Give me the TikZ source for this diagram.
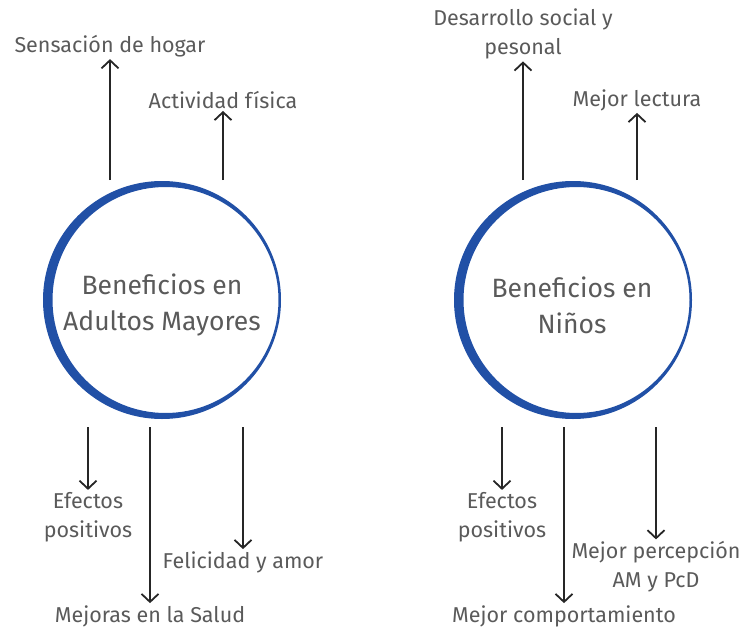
\documentclass[tikz,border=0pt]{standalone}
\usepackage{fontspec}
\setmainfont{Fira Sans}
\usetikzlibrary{arrows.meta}
\definecolor{ringblue}{HTML}{2150A6}
\definecolor{inkgray}{HTML}{5A5A5A}
\definecolor{arrowink}{HTML}{262626}
\tikzset{
  benefit/.style={text=inkgray, font=\fontsize{21.5}{29}\selectfont, align=center, inner sep=2pt},
  title/.style={text=inkgray, font=\fontsize{26.5}{36}\selectfont, align=center},
  ring/.style={fill=ringblue, even odd rule},
}
\begin{document}
\begin{tikzpicture}[x=1pt,y=-1pt]
      \useasboundingbox (0,0) rectangle (742,629);
      \fill[ring] (162,300) circle [radius=119pt] (165.5,300) circle [radius=113pt];
      \fill[ring] (573,300) circle [radius=119pt] (576.5,300) circle [radius=113pt];
      \draw
        (162,305) node[title] (adultos){Beneficios en\\Adultos Mayores}
        (110,46) node[benefit] (hogar){Sensación de hogar}
        (223,100) node[benefit] (actividad){Actividad física}
        (88,517) node[benefit] (efectosA){Efectos\\positivos}
        (150,616) node[benefit] (salud){Mejoras en la Salud}
        (243,562) node[benefit] (felicidad){Felicidad y amor}
        (572,305) node[title] (ninos){Beneficios en\\Niños}
        (523,34) node[benefit] (desarrollo){Desarrollo social y\\pesonal}
        (637,100) node[benefit] (lectura){Mejor lectura}
        (502,517) node[benefit] (efectosN){Efectos\\positivos}
        (564,616) node[benefit] (comportamiento){Mejor comportamiento}
        (656,567) node[benefit] (percepcion){Mejor percepción\\AM y PcD};
      \coordinate (a1) at (110,180);
      \coordinate (a2) at (223,180);
      \coordinate (a3) at (88,427);
      \coordinate (a4) at (150,427);
      \coordinate (a5) at (243,427);
      \coordinate (n1) at (523,180);
      \coordinate (n2) at (637,180);
      \coordinate (n3) at (502,427);
      \coordinate (n4) at (564,427);
      \coordinate (n5) at (656,427);
      \begin{scope}[-{Straight Barb[length=8pt,width=17pt]}, line width=1.8pt, draw=arrowink]
        \draw (a1) to (hogar);
        \draw (a2) to (actividad);
        \draw (a3) to (efectosA);
        \draw (a4) to (salud);
        \draw (a5) to (felicidad);
        \draw (n1) to (desarrollo);
        \draw (n2) to (lectura);
        \draw (n3) to (efectosN);
        \draw (n4) to (comportamiento);
        \draw (n5) to (percepcion);
      \end{scope}
    \end{tikzpicture}
\end{document}
